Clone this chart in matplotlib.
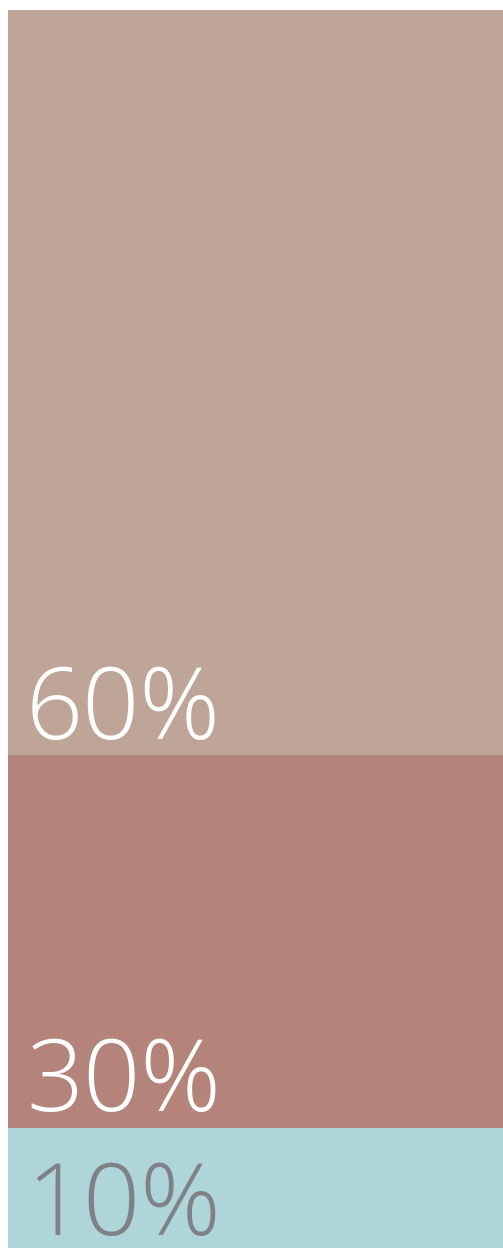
import matplotlib.pyplot as plt

shares = [10, 30, 60]
labels = ["10%", "30%", "60%"]
colors = ["#aed6d8", "#b48379", "#bea597"]
text_colors = ["#808184", "white", "white"]

fig = plt.figure(figsize=(5.03, 12.48), dpi=100)
# bar runs slightly past the bottom edge, as in the reference
ax = fig.add_axes([8 / 503, -4 / 1248, 495 / 503, 1242 / 1248])

bottom = 0
for share, label, color, tcolor in zip(shares, labels, colors, text_colors):
    ax.bar(0, share, bottom=bottom, width=1, color=color, linewidth=0)
    ax.annotate(label, xy=(-0.5, bottom), xytext=(13, 12), textcoords="offset points",
                ha="left", va="baseline", fontsize=72, color=tcolor,
                family=["Open Sans", "DejaVu Sans"], fontweight="light",
                annotation_clip=False)
    bottom += share

ax.set_xlim(-0.5, 0.5)
ax.set_ylim(0, sum(shares))
ax.axis("off")

plt.savefig("out.png", dpi=100)
